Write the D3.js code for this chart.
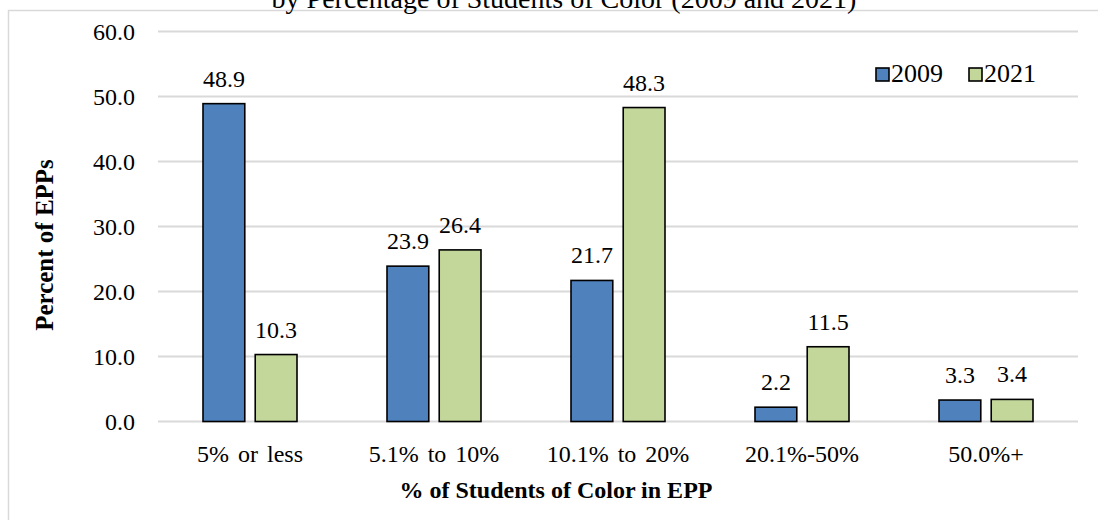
<!DOCTYPE html>
<html>
<head>
<meta charset="utf-8">
<script src="https://cdn.jsdelivr.net/npm/d3@7"></script>
<style>
  html, body { margin: 0; padding: 0; background: #fff; }
  svg { display: block; }
  svg text { font-family: "Liberation Serif", "Times New Roman", serif; }
</style>
</head>
<body>
<svg id="chart" width="1098" height="520"></svg>
<script>
// Share of EPPs by percentage of students of color
const categories = ["5% or less", "5.1% to 10%", "10.1% to 20%", "20.1%-50%", "50.0%+"];
const seriesNames = ["2009", "2021"];
const values2009 = [48.9, 23.9, 21.7, 2.2, 3.3];
const values2021 = [10.3, 26.4, 48.3, 11.5, 3.4];
const yTicks = [0, 10, 20, 30, 40, 50, 60];
const seriesColors = ["#4F81BD", "#C4D79B"];

const titleText = "by Percentage of Students of Color (2009 and 2021)";
const xTitle = "% of Students of Color in EPP";
const yTitle = "Percent of EPPs";

const svg = d3.select("#chart");
const plot = { left: 158, right: 1078, top: 31.5, bottom: 421.5 };

// Chart-area frame (only top and left edges fall inside the canvas)
svg.append("path")
  .attr("d", `M8.5,520 V10.5 H1098`)
  .attr("fill", "none")
  .attr("stroke", "#d9d9d9")
  .attr("stroke-width", 1.5);

// Title, mostly above the visible area
svg.append("text")
  .attr("x", 564).attr("y", 8)
  .attr("text-anchor", "middle")
  .attr("font-size", 28)
  .attr("fill", "#000")
  .text(titleText);

const x0 = d3.scaleBand().domain(categories).range([plot.left, plot.right]).padding(0);
const bw = x0.bandwidth();
const x1 = d3.scaleBand().domain(seriesNames).range([bw / 2 - 47, bw / 2 + 47]).paddingInner(0.2);
const y = d3.scaleLinear().domain([0, 60]).range([plot.bottom, plot.top]);

// Gridlines
svg.append("g")
  .selectAll("line")
  .data(yTicks)
  .join("line")
  .attr("x1", plot.left).attr("x2", plot.right)
  .attr("y1", d => y(d)).attr("y2", d => y(d))
  .attr("stroke", "#d9d9d9")
  .attr("stroke-width", 2);

// Y axis labels
const yAxis = d3.axisLeft(y).tickValues(yTicks).tickFormat(d3.format(".1f")).tickSize(0).tickPadding(0);
const yg = svg.append("g").attr("transform", `translate(135,0)`).call(yAxis);
yg.select(".domain").remove();
yg.selectAll("text").attr("font-size", 24).attr("fill", "#000").attr("dy", "0.34em");

// X axis labels
const xAxis = d3.axisBottom(x0).tickSize(0).tickPadding(0);
const xg = svg.append("g").attr("transform", `translate(0,${plot.bottom})`).call(xAxis);
xg.select(".domain").remove();
xg.selectAll("text").attr("font-size", 24).attr("fill", "#000")
  .attr("word-spacing", 3)
  .attr("y", 40).attr("dy", 0);

// Bars
const rows = categories.map((c, i) => ({ cat: c, vals: [
  { key: "2009", v: values2009[i] },
  { key: "2021", v: values2021[i] }
]}));

const groups = svg.append("g").selectAll("g")
  .data(rows)
  .join("g")
  .attr("transform", d => `translate(${x0(d.cat)},0)`);

groups.selectAll("rect")
  .data(d => d.vals)
  .join("rect")
  .attr("x", d => x1(d.key))
  .attr("width", x1.bandwidth())
  .attr("y", d => y(d.v))
  .attr("height", d => y(0) - y(d.v))
  .attr("fill", (d, i) => seriesColors[i])
  .attr("stroke", "#000")
  .attr("stroke-width", 1.6);

groups.selectAll("text")
  .data(d => d.vals)
  .join("text")
  .attr("x", d => x1(d.key) + x1.bandwidth() / 2)
  .attr("y", d => y(d.v) - 17)
  .attr("text-anchor", "middle")
  .attr("font-size", 24)
  .attr("fill", "#000")
  .text(d => d.v.toFixed(1));

// Axis titles
svg.append("text")
  .attr("x", 556).attr("y", 498)
  .attr("text-anchor", "middle")
  .attr("font-size", 24).attr("font-weight", "bold")
  .text(xTitle);

svg.append("text")
  .attr("transform", `translate(53,245) rotate(-90)`)
  .attr("text-anchor", "middle")
  .attr("font-size", 25).attr("font-weight", "bold")
  .text(yTitle);

// Legend
const legend = svg.append("g").selectAll("g")
  .data(seriesNames)
  .join("g")
  .attr("transform", (d, i) => `translate(${876 + i * 93},68)`);
legend.append("rect")
  .attr("width", 13).attr("height", 13)
  .attr("fill", (d, i) => seriesColors[i])
  .attr("stroke", "#000").attr("stroke-width", 1.6);
legend.append("text")
  .attr("x", 15).attr("y", 14)
  .attr("font-size", 26).attr("fill", "#000")
  .text(d => d);
</script>
</body>
</html>
